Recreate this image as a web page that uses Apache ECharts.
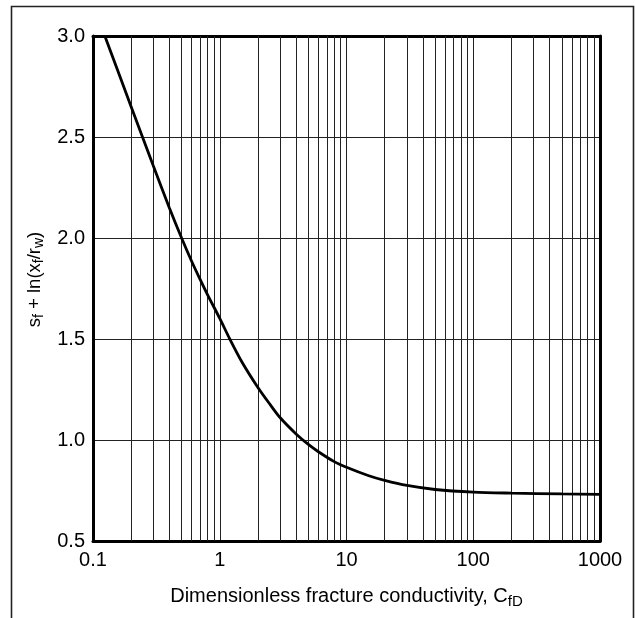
<!DOCTYPE html>
<html>
<head>
<meta charset="utf-8">
<script src="https://cdn.jsdelivr.net/npm/echarts@6/dist/echarts.min.js"></script>
<style>
html,body{margin:0;padding:0;background:#fff;}
#chart{width:635px;height:618px;}
</style>
</head>
<body>
<div id="chart"></div>
<script>
// Curve data: dimensionless fracture conductivity vs s_f + ln(x_f/r_w)
var cfdValues = [0.124, 0.2, 0.3, 0.4, 0.5, 0.6, 0.7, 0.8, 1.0, 1.2, 1.5, 2, 2.5, 3, 4, 5, 6, 8, 10, 15, 20, 30, 50, 100, 200, 500, 1000];
var skinValues = [3.0, 2.65, 2.355, 2.15, 2.0, 1.885, 1.795, 1.72, 1.602, 1.5, 1.385, 1.26, 1.175, 1.11, 1.03, 0.978, 0.942, 0.893, 0.865, 0.823, 0.800, 0.775, 0.755, 0.742, 0.737, 0.733, 0.731];
// Axis ticks
var xTickLabels = ['0.1', '1', '10', '100', '1000'];
var decades = [0.1, 1, 10, 100];
var minorMultipliers = [2, 3, 4, 5, 6, 7, 8, 9];

var minorGrid = [];
decades.forEach(function (d) {
  minorMultipliers.forEach(function (m) {
    minorGrid.push(+(d * m).toPrecision(3));
  });
});

var curve = cfdValues.map(function (x, i) { return [x, skinValues[i]]; });

var FONT = '"Liberation Sans", Arial, sans-serif';
var FS = 20;
var chart = echarts.init(document.getElementById('chart'), null, {renderer: 'canvas'});

function richStyles(fs, subFs) {
  return {
    n: {fontFamily: FONT, fontSize: fs, color: '#000', lineHeight: fs + 5},
    sub: {fontFamily: FONT, fontSize: subFs, color: '#000', lineHeight: subFs, verticalAlign: 'bottom'}
  };
}

chart.setOption({
  animation: false,
  backgroundColor: '#fff',
  textStyle: {fontFamily: FONT},
  grid: {left: 93, right: 35, top: 36, bottom: 77, containLabel: false},
  graphic: [{
    type: 'polyline',
    shape: {points: [[11.5, 618], [11.5, 6.5], [633.5, 6.5], [633.5, 618]]},
    style: {stroke: '#222', lineWidth: 1.6, fill: null},
    silent: true
  }],
  xAxis: [{
    type: 'log',
    logBase: 10,
    min: 0.1,
    max: 1000,
    position: 'bottom',
    axisLine: {show: true, onZero: false, lineStyle: {color: '#000', width: 3}},
    axisTick: {show: false},
    splitLine: {show: true, lineStyle: {color: '#222', width: 1}},
    axisLabel: {
      fontFamily: FONT, fontSize: FS, color: '#000', margin: 9,
      formatter: function (v) {
        var idx = Math.round(Math.log10(v)) + 1;
        return xTickLabels[idx] !== undefined ? xTickLabels[idx] : '';
      }
    },
    name: '{n|Dimensionless fracture conductivity, C}{sub|fD}',
    nameLocation: 'middle',
    nameGap: 43,
    nameTextStyle: {rich: richStyles(20, 15)}
  }, {
    type: 'log',
    logBase: 10,
    min: 0.1,
    max: 1000,
    position: 'top',
    axisLine: {show: true, onZero: false, lineStyle: {color: '#000', width: 3}},
    axisTick: {show: false},
    axisLabel: {show: false},
    splitLine: {show: false}
  }],
  yAxis: [{
    type: 'value',
    min: 0.5,
    max: 3.0,
    interval: 0.5,
    position: 'left',
    axisLine: {show: true, onZero: false, lineStyle: {color: '#000', width: 3}},
    axisTick: {show: false},
    splitLine: {show: true, lineStyle: {color: '#222', width: 1}},
    axisLabel: {
      fontFamily: FONT, fontSize: FS, color: '#000', margin: 8,
      formatter: function (v) { return v.toFixed(1); }
    },
    name: '{n|s}{sub|f}{n| + ln(x}{sub|f}{n|/r}{sub|w}{n|)}',
    nameLocation: 'middle',
    nameGap: 46,
    nameTextStyle: {rich: richStyles(18.5, 14), padding: [0, 0, 0, 18]}
  }, {
    type: 'value',
    min: 0.5,
    max: 3.0,
    interval: 0.5,
    position: 'right',
    axisLine: {show: true, onZero: false, lineStyle: {color: '#000', width: 3}},
    axisTick: {show: false},
    axisLabel: {show: false},
    splitLine: {show: false}
  }],
  series: [{
    type: 'line',
    xAxisIndex: 0,
    yAxisIndex: 0,
    data: curve,
    smooth: 0.3,
    showSymbol: false,
    symbol: 'none',
    clip: true,
    lineStyle: {color: '#000', width: 2.8},
    z: 5,
    markLine: {
      silent: true,
      symbol: ['none', 'none'],
      label: {show: false},
      lineStyle: {type: 'solid', color: '#222', width: 1},
      z: 1,
      data: minorGrid.map(function (v) { return {xAxis: v}; })
    }
  }]
});
</script>
</body>
</html>
